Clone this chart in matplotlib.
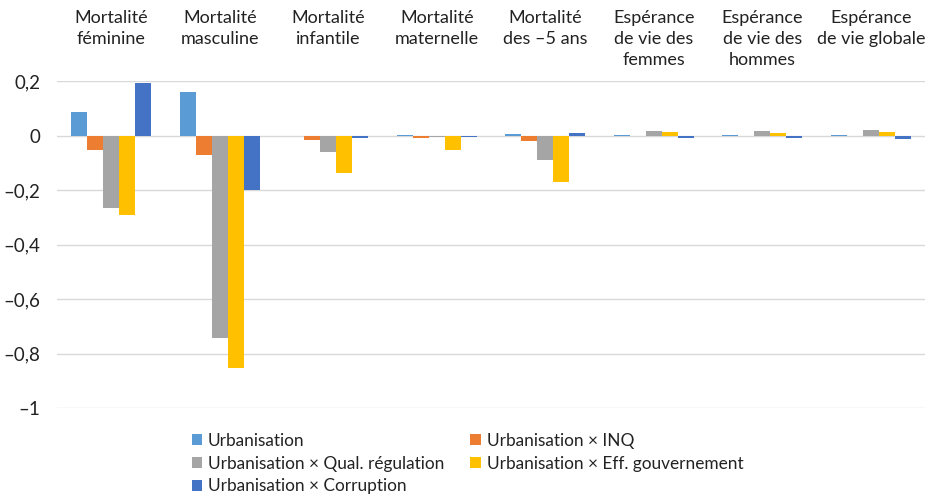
import numpy as np
import matplotlib.pyplot as plt
import matplotlib.transforms as mtransforms

plt.rcParams['font.family'] = ['Lato', 'DejaVu Sans']

categories = ['Mortalité\nféminine', 'Mortalité\nmasculine', 'Mortalité\ninfantile',
              'Mortalité\nmaternelle', 'Mortalité\ndes –5 ans',
              'Espérance\nde vie des\nfemmes', 'Espérance\nde vie des\nhommes',
              'Espérance\nde vie globale']

series_names = ['Urbanisation', 'Urbanisation × INQ', 'Urbanisation × Qual. régulation',
                'Urbanisation × Eff. gouvernement', 'Urbanisation × Corruption']

urbanisation = [0.088, 0.161, 0.0, 0.003, 0.006, 0.001, 0.001, 0.001]
urb_inq = [-0.055, -0.070, -0.015, -0.010, -0.022, 0.0, 0.0, 0.0]
urb_qual = [-0.267, -0.743, -0.062, -0.005, -0.090, 0.017, 0.017, 0.020]
urb_eff = [-0.293, -0.853, -0.139, -0.052, -0.172, 0.013, 0.010, 0.014]
urb_corr = [0.194, -0.201, -0.010, -0.006, 0.010, -0.010, -0.010, -0.014]

yticks = [0.2, 0, -0.2, -0.4, -0.6, -0.8, -1]
yticklabels = ['0,2', '0', '–0,2', '–0,4', '–0,6', '–0,8', '–1']

series = [urbanisation, urb_inq, urb_qual, urb_eff, urb_corr]
colors = ['#5B9BD5', '#ED7D31', '#A5A5A5', '#FFC000', '#4472C4']
txt = '#222222'

fig = plt.figure(figsize=(9.3, 4.94), dpi=100)
ax = fig.add_axes([57/930, 1 - 408/494, (925 - 57)/930, (408 - 81)/494])

x = np.arange(len(categories))
w = 0.148
bars = []
for i, (vals, c) in enumerate(zip(series, colors)):
    b = ax.bar(x + (i - 2) * w, vals, w, color=c, label=series_names[i], zorder=3)
    bars.append(b)

ax.set_xlim(-0.5, len(categories) - 0.5)
ax.set_ylim(-1, 0.2)
ax.set_yticks(yticks)
ax.set_yticklabels(yticklabels, fontsize=13.5, color=txt)
ax.set_xticks([])
ax.tick_params(axis='y', length=0, pad=12)
ax.grid(axis='y', color='#d9d9d9', linewidth=1, zorder=0)
for s in ax.spines.values():
    s.set_visible(False)

# category labels sit above the plot area
trans = mtransforms.blended_transform_factory(ax.transData, fig.transFigure)
for xi, lab in zip(x, categories):
    ax.text(xi, 1 - 10/494, lab, transform=trans, ha='center', va='top',
            fontsize=13, color=txt, linespacing=1.4)

order = [0, 2, 4, 1, 3]   # legend is filled row by row in the reference
handles = [bars[i] for i in order]
labels = [series_names[i] for i in order]
fig.legend(handles, labels, ncol=2, loc='upper left', bbox_to_anchor=(183/930, 1 - 424/494),
           frameon=False, fontsize=12.4, handlelength=0.6, handleheight=0.6, handletextpad=0.35,
           columnspacing=1.5, labelspacing=0.4, borderpad=0, labelcolor=txt)

fig.savefig('out.png', dpi=100)
